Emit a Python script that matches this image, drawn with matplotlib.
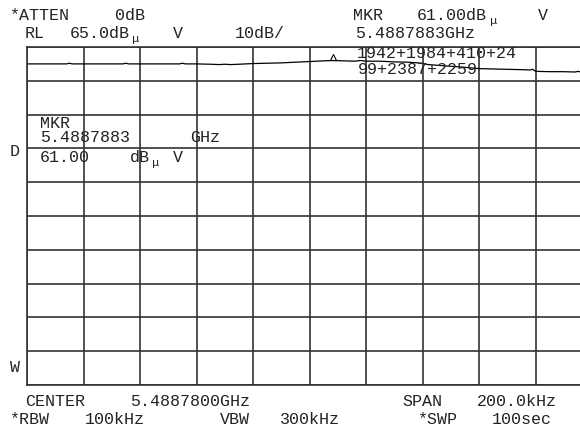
import numpy as np
import matplotlib.pyplot as plt
from matplotlib import transforms

W, H = 580, 429

# trace: offset from center (kHz) vs level (dBuV)
freq = [-100, -90, -86, -85, -84, -80, -70, -66, -65, -64, -60, -50, -46, -45, -44,
        -40, -35, -32, -30, -28, -25, -20, -15, -10, -5, 0, 5, 8.3, 12, 16, 18, 20,
        25, 30, 35, 40, 42, 50, 55, 60, 65, 70, 75, 78, 79, 80, 85, 90, 94, 95, 96, 100]
level = [60.0, 60.0, 60.0, 60.2, 60.0, 60.0, 60.0, 60.0, 60.2, 60.0, 60.0, 60.0, 60.0, 60.2, 60.0,
         60.0, 59.9, 59.8, 59.9, 59.8, 59.9, 60.1, 60.2, 60.3, 60.5, 60.7, 60.9, 61.0, 60.9, 60.8, 61.0, 60.8,
         60.8, 60.6, 60.5, 60.2, 59.8, 59.3, 59.0, 58.6, 58.5, 58.4, 58.3, 58.2, 58.4, 57.8, 57.7, 57.7, 57.6, 57.8, 57.6, 57.6]

mkr_f = 8.3
mkr_db = 61.0

ref_level = 65.0
db_div = 10
span = 200.0

fig = plt.figure(figsize=(W/100, H/100), dpi=100)
ax = fig.add_axes([27/W, (H-385)/H, 565/W, 338/H])
ax.set_xlim(-span/2, span/2)
ax.set_ylim(ref_level - 10*db_div, ref_level)
ax.set_xticks(np.arange(-span/2, span/2 + 1, span/10))
ax.set_yticks(np.arange(ref_level - 10*db_div, ref_level + 1, db_div))
ax.tick_params(length=0, labelbottom=False, labelleft=False)
ax.grid(True, color='#333333', lw=1.2)
for s in ax.spines.values():
    s.set_color('#333333')
    s.set_linewidth(1.2)

ax.plot(freq, level, color='black', lw=0.9)
up = transforms.offset_copy(ax.transData, fig=fig, x=0, y=3.5, units='dots')
ax.plot(mkr_f, mkr_db, marker='^', ms=5, mfc='white', mec='black', mew=0.8, transform=up)

tc = '#222222'
fs = 12

def txt(x, y, s, size=fs):
    fig.text(x/W, 1 - y/H, s, fontsize=size, family='Liberation Mono',
             color=tc, ha='left', va='baseline')

def mu(x, y):
    fig.text(x/W, 1 - (y + 4)/H, 'μ', fontsize=8, family='DejaVu Sans',
             color=tc, ha='left', va='baseline')

# header
txt(10, 19.5, '*ATTEN')
txt(115, 19.5, '0dB')
txt(25, 38.5, 'RL')
txt(70, 38.5, '%.1fdB' % ref_level)
mu(132, 38.5)
txt(173, 38.5, 'V')
txt(235, 38.5, '%ddB/' % db_div)
txt(353, 19.5, 'MKR')
txt(417, 19.5, '%.2fdB' % mkr_db)
mu(490, 19.5)
txt(538, 19.5, 'V')
txt(355, 38, '5.4887883GHz')
txt(357, 57.5, '1942+1984+410+24')
txt(358, 73.5, '99+2387+2259')

# marker readout inside the graticule
txt(40, 128.5, 'MKR')
txt(40, 142.5, '5.4887883')
txt(190, 142.5, 'GHz')
txt(40, 161.5, '%.2f' % mkr_db)
txt(130, 161.5, 'dB')
mu(152, 161.5)
txt(173, 161.5, 'V')
txt(10, 155.5, 'D')
txt(10, 372.5, 'W')

# footer
txt(25, 406.5, 'CENTER')
txt(130, 406.5, '5.4887800GHz')
txt(402, 406.5, 'SPAN')
txt(477, 406.5, '%.1fkHz' % span)
txt(10, 424.5, '*RBW')
txt(85, 424.5, '100kHz')
txt(220, 424.5, 'VBW')
txt(280, 424.5, '300kHz')
txt(418, 424.5, '*SWP')
txt(492, 424.5, '100sec')

fig.savefig('out.png', dpi=100)
